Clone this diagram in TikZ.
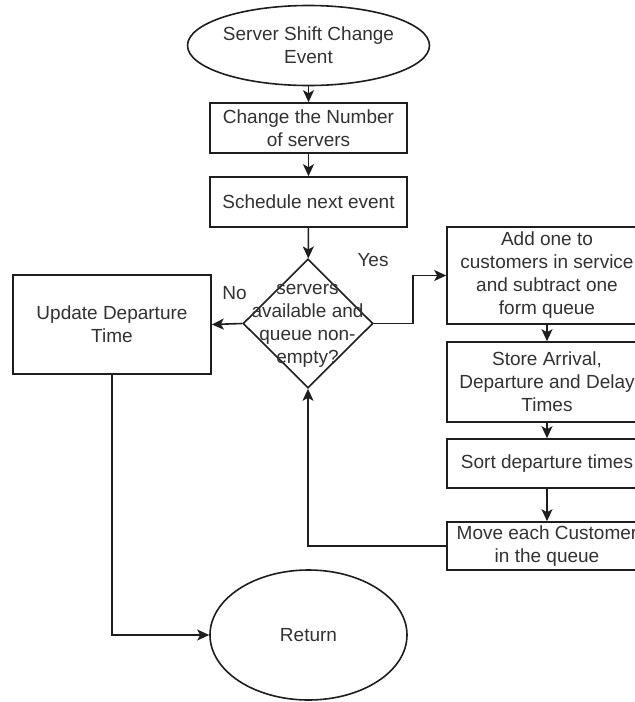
\documentclass[tikz,border=0pt]{standalone}
\usepackage{fontspec}
\setmainfont{Liberation Sans}
\usetikzlibrary{shapes.geometric,arrows.meta}
\definecolor{ink}{RGB}{30,30,30}
\definecolor{txt}{RGB}{50,50,50}
\tikzset{
  base/.style={draw=ink, line width=1.6pt, text=txt, inner sep=0pt, align=center,
    font=\fontsize{19}{23}\selectfont},
  procbox/.style={base, rectangle, minimum width=#1},
  ovalnode/.style={base, ellipse, minimum width=197pt},
  decision/.style={draw=ink, line width=1.6pt, diamond, inner sep=0pt,
    minimum width=130pt, minimum height=129pt},
  tag/.style={text=txt, inner sep=0pt, font=\fontsize{19}{23}\selectfont, align=center},
  link/.style={draw=ink, line width=1.6pt,
    -{Stealth[length=12pt,width=11pt,inset=3pt]}},
}
\begin{document}
\begin{tikzpicture}[x=1pt,y=-1pt]
  \useasboundingbox (0,0) rectangle (635,702);
  \clip (0,0) rectangle (635,702);
  \fill[white] (0,0) rectangle (635,702);

  % main column
  \node[ovalnode, minimum height=80pt] (start) at (308.5,45.5) {Server Shift Change\\Event};
  \node[procbox=197pt, minimum height=50pt] (b1) at (308.5,128) {Change the Number\\of servers};
  \node[procbox=197pt, minimum height=50pt] (b2) at (308.5,202) {Schedule next event};
  \node[decision] (dec) at (308,323.5) {};
  \node[tag] (dectext) at (307.5,326) {servers\\available and\\queue non-\\empty?};

  % left branch
  \node[procbox=198pt, minimum height=99pt] (upd) at (112,324.5) {Update Departure\\Time};

  % right column
  \node[procbox=200pt, minimum height=97pt] (r1) at (547,275.5) {Add one to\\customers in service\\and subtract one\\form queue};
  \node[procbox=200pt, minimum height=80pt] (r2) at (547,382) {Store Arrival,\\Departure and Delay\\Times};
  \node[procbox=200pt, minimum height=49pt] (r3) at (547,463.5) {Sort departure times};
  \node[procbox=200pt, minimum height=48pt] (r4) at (547,546) {Move each Customer\\in the queue};

  % end
  \node[ovalnode, minimum height=130pt] (ret) at (308.5,635) {Return};

  % labels
  \node[tag] (yes) at (373,260) {Yes};
  \node[tag] (no) at (234.5,293) {No};

  % connectors
  \draw[link] (start) -- (b1);
  \draw[link] (b1) -- (b2);
  \draw[link] (b2) -- (dec);
  \draw[link] (dec.west) -- (upd.east);
  \draw[link] (dec.east) -- ++(39,0) |- (r1.west);
  \draw[link] (r1) -- (r2);
  \draw[link] (r2) -- (r3);
  \draw[link] (r3) -- (r4);
  \draw[link] (r4.west) -| (dec.south);
  \draw[link] (upd.south) |- (ret.west);
\end{tikzpicture}
\end{document}
